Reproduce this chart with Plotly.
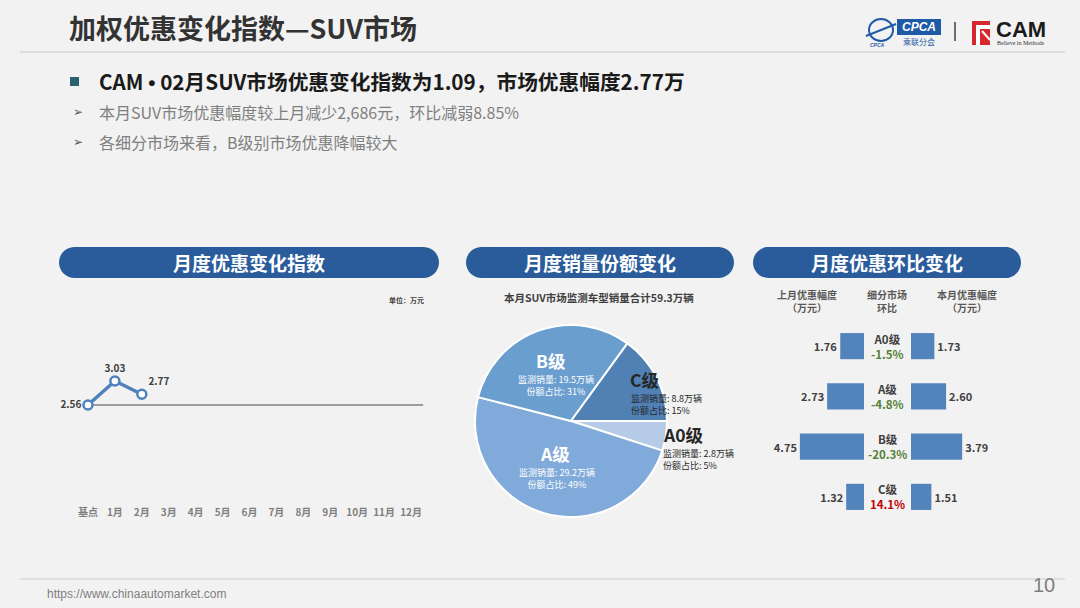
import plotly.graph_objects as go

W, H = 1080, 608
FONT = "Noto Sans CJK SC"

# ---------------- data ----------------
months = ["基点", "1月", "2月", "3月", "4月", "5月", "6月", "7月", "8月", "9月", "10月", "11月", "12月"]
index_vals = [2.56, 3.03, 2.77]
index_label_pos = ["middle left", "top center", "top right"]

seg_names = ["A0级", "A级", "B级", "C级"]
seg_volume = [2.8, 29.2, 19.5, 8.8]      # 万辆
seg_share = [5, 49, 31, 15]              # %
pie_colors = ["#b5cbe6", "#80aad9", "#6a9ecf", "#5080b4"]

last_month = [1.76, 2.73, 4.75, 1.32]
this_month = [1.73, 2.60, 3.79, 1.51]
mom_change = ["-1.5%", "-4.8%", "-20.3%", "14.1%"]

BAR_BLUE = "#5283bb"
LINE_BLUE = "#4f81bd"
DARK = "#404040"


def X(px):
    return px / W


def Y(py):
    return 1 - py / H


fig = go.Figure()

# ---------------- line chart ----------------
fig.add_trace(go.Scatter(
    x=list(range(len(index_vals))), y=index_vals,
    mode="lines+markers+text",
    line=dict(color=LINE_BLUE, width=3.5),
    marker=dict(size=9, color="white", line=dict(color=LINE_BLUE, width=2.5)),
    text=[f"{v:.2f}" for v in index_vals],
    textposition=index_label_pos,
    textfont=dict(family=FONT, size=10, color=DARK, weight="bold"),
    cliponaxis=False, showlegend=False, hoverinfo="skip",
    xaxis="x", yaxis="y",
))

# ---------------- pie ----------------
fig.add_trace(go.Pie(
    labels=seg_names, values=seg_share, sort=False, direction="clockwise",
    rotation=90, textinfo="none", hoverinfo="skip", showlegend=False,
    marker=dict(colors=pie_colors, line=dict(color="white", width=2)),
    domain=dict(x=[X(475), X(667)], y=[Y(517), Y(325)]),
))

# ---------------- bars ----------------
ypos = list(range(len(seg_names)))
fig.add_trace(go.Bar(
    x=last_month, y=ypos, orientation="h", width=0.52,
    marker=dict(color=BAR_BLUE, line=dict(width=0)),
    text=[f"{v:.2f}" for v in last_month], textposition="outside",
    textfont=dict(family=FONT, size=11, color=DARK, weight="bold"),
    constraintext="none", cliponaxis=False, showlegend=False, hoverinfo="skip",
    xaxis="x2", yaxis="y2",
))
fig.add_trace(go.Bar(
    x=this_month, y=ypos, orientation="h", width=0.52,
    marker=dict(color=BAR_BLUE, line=dict(width=0)),
    text=[f"{v:.2f}" for v in this_month], textposition="outside",
    textfont=dict(family=FONT, size=11, color=DARK, weight="bold"),
    constraintext="none", cliponaxis=False, showlegend=False, hoverinfo="skip",
    xaxis="x3", yaxis="y3",
))

shapes = []
ann = []


def text(t, x, y, size, color=DARK, weight="normal", xanchor="center", yanchor="middle", family=FONT, **kw):
    ann.append(dict(text=t, x=X(x), y=Y(y), xref="paper", yref="paper", showarrow=False,
                    xanchor=xanchor, yanchor=yanchor,
                    font=dict(family=family, size=size, color=color, weight=weight), **kw))


def pill(x0, y0, x1, y1, color):
    r = (y1 - y0) / 2
    k = 0.5523 * r
    pts = [
        ("M", [(x0 + r, y0)]),
        ("L", [(x1 - r, y0)]),
        ("C", [(x1 - r + k, y0), (x1, y0 + r - k), (x1, y0 + r)]),
        ("C", [(x1, y0 + r + k), (x1 - r + k, y1), (x1 - r, y1)]),
        ("L", [(x0 + r, y1)]),
        ("C", [(x0 + r - k, y1), (x0, y0 + r + k), (x0, y0 + r)]),
        ("C", [(x0, y0 + r - k), (x0 + r - k, y0), (x0 + r, y0)]),
    ]
    path = ""
    for cmd, ps in pts:
        path += cmd + " " + " ".join(f"{X(px):.5f},{Y(py):.5f}" for px, py in ps) + " "
    path += "Z"
    shapes.append(dict(type="path", path=path, xref="paper", yref="paper",
                       fillcolor=color, line=dict(width=0), layer="below"))


# header
text("加权优惠变化指数—SUV市场", 67, 28, 27, color="#333333", weight="bold", xanchor="left")
shapes.append(dict(type="line", xref="paper", yref="paper", x0=X(20), x1=X(1065), y0=Y(52), y1=Y(52),
                   line=dict(color="#d4d4d4", width=1.5), layer="below"))

# logos (approximate)
shapes.append(dict(type="circle", xref="paper", yref="paper", x0=X(869), x1=X(893), y0=Y(41), y1=Y(19),
                   line=dict(color="#1f5aa6", width=2), layer="below"))
shapes.append(dict(type="line", xref="paper", yref="paper", x0=X(866), x1=X(896), y0=Y(36), y1=Y(24),
                   line=dict(color="#1f5aa6", width=2), layer="below"))
text("<i>CPCA</i>", 877, 45, 5, color="#1f5aa6", weight="bold", family="Liberation Sans")
shapes.append(dict(type="rect", xref="paper", yref="paper", x0=X(897), x1=X(941), y0=Y(35), y1=Y(19),
                   fillcolor="#1f5aa6", line=dict(width=0), layer="below"))
text("<i>CPCA</i>", 919, 27, 12, color="white", weight="bold", family="Liberation Sans")
text("乘联分会", 919, 42, 8, color="#1f5aa6")
shapes.append(dict(type="line", xref="paper", yref="paper", x0=X(955), x1=X(955), y0=Y(22), y1=Y(41),
                   line=dict(color="#404040", width=1.5), layer="below"))
shapes.append(dict(type="rect", xref="paper", yref="paper", x0=X(972), x1=X(990), y0=Y(45), y1=Y(21),
                   fillcolor="#d7282f", line=dict(width=0), layer="below"))
shapes.append(dict(type="path", xref="paper", yref="paper",
                   path=f"M {X(976)},{Y(25)} L {X(990)},{Y(25)} L {X(990)},{Y(29)} L {X(980)},{Y(29)} L {X(980)},{Y(45)} L {X(976)},{Y(45)} Z",
                   fillcolor="white", line=dict(width=0), layer="below"))
shapes.append(dict(type="line", xref="paper", yref="paper", x0=X(982), x1=X(990), y0=Y(31), y1=Y(40),
                   line=dict(color="white", width=2), layer="below"))
text("CAM", 994, 30, 22, color="#1a1a1a", weight="bold", xanchor="left", family="Liberation Sans")
text("Believe in Methods", 995, 43, 6, color="#333333", xanchor="left", family="Liberation Serif")

# bullet lines
shapes.append(dict(type="rect", xref="paper", yref="paper", x0=X(70), x1=X(79), y0=Y(86), y1=Y(77),
                   fillcolor="#2c6170", line=dict(width=0), layer="below"))
text('CAM <span style="font-family:Liberation Sans">•</span> 02月SUV市场优惠变化指数为1.09，市场优惠幅度2.77万',
     97, 81, 20.7, color="#1a1a1a", weight="bold", xanchor="left")
text("➢", 71, 112, 12, color="#595959", xanchor="left", family="DejaVu Sans")
text("本月SUV市场优惠幅度较上月减少2,686元，环比减弱8.85%", 97, 112, 16, color="#7f7f7f", xanchor="left")
text("➢", 71, 142, 12, color="#595959", xanchor="left", family="DejaVu Sans")
text("各细分市场来看，B级别市场优惠降幅较大", 97, 142, 16, color="#7f7f7f", xanchor="left")

# pill headers
HDR = "#2a5c9b"
for (x0, x1, t) in [(59, 439, "月度优惠变化指数"), (466, 734, "月度销量份额变化"), (753, 1021, "月度优惠环比变化")]:
    pill(x0, 247, x1, 278, HDR)
    text(t, (x0 + x1) / 2, 262.5, 19, color="white", weight="bold")

# line chart extras
text("单位：万元", 426, 300, 7, color=DARK, weight="bold", xanchor="right")
shapes.append(dict(type="line", xref="x", yref="y", x0=0, x1=12.45, y0=index_vals[0], y1=index_vals[0],
                   line=dict(color="#7f7f7f", width=1.5), layer="below"))

# pie labels
text("本月SUV市场监测车型销量合计59.3万辆", 599, 297, 10.5, color=DARK, weight="bold")
HEAD = 17.5
SUB = 9


def sub(i):
    return f"监测销量: {seg_volume[i]}万辆<br>份额占比: {seg_share[i]}%"


text("B级", 551, 360, HEAD, color="white", weight="bold")
text(sub(2), 556, 385.5, SUB, color="white")
text("A级", 555, 453, HEAD, color="white", weight="bold")
text(sub(1), 557, 478.5, SUB, color="white")
text("C级", 628, 379, HEAD, color="#262626", weight="bold", xanchor="left")
text(sub(3), 629, 404.5, SUB, color="#262626", xanchor="left", align="left")
text("A0级", 661, 434, HEAD, color="#262626", weight="bold", xanchor="left")
text(sub(0), 661, 459, SUB, color="#262626", xanchor="left", align="left")

# bar chart headers
for cx, l1, l2 in [(807, "上月优惠幅度", "（万元）"), (887, "细分市场", "环比"), (967, "本月优惠幅度", "（万元）")]:
    text(f"{l1}<br>{l2}", cx, 301, 10, color="#595959", weight="bold")

for i, (name, chg) in enumerate(zip(seg_names, mom_change)):
    col = "#c00000" if not chg.startswith("-") else "#538135"
    ann.append(dict(text=f"{name}<br><span style='color:{col}'>{chg}</span>", x=X(887), xref="paper",
                    y=i, yref="y2", showarrow=False, xanchor="center", yanchor="middle",
                    font=dict(family=FONT, size=11.5, color=DARK, weight="bold")))

# footer
shapes.append(dict(type="line", xref="paper", yref="paper", x0=X(20), x1=X(1065), y0=Y(579), y1=Y(579),
                   line=dict(color="#d9d9d9", width=1.5), layer="below"))
text("https://www.chinaautomarket.com", 45, 594, 12, color="#7f7f7f", xanchor="left", family="Liberation Sans")
text("10", 1057, 585, 20, color="#7f7f7f", xanchor="right", family="Liberation Sans")

# ---------------- axes ----------------
px_per_unit = 51.0
y_top_px, y_bot_px, base_px = 300, 505, 405
y_lo = index_vals[0] - (y_bot_px - base_px) / px_per_unit
y_hi = index_vals[0] + (base_px - y_top_px) / px_per_unit

hidden = dict(visible=False, showgrid=False, zeroline=False, fixedrange=True)
bar_scale = 13.5
left_range = (864 - 740) / bar_scale

fig.update_layout(
    width=W, height=H, margin=dict(l=0, r=0, t=0, b=0),
    paper_bgcolor="#f2f2f2", plot_bgcolor="rgba(0,0,0,0)",
    showlegend=False,
    xaxis=dict(domain=[X(74.5), X(424.5)], range=[-0.5, 12.5], tickmode="array",
               tickvals=list(range(len(months))), ticktext=months, showgrid=False, zeroline=False,
               showline=False, ticks="", fixedrange=True,
               tickfont=dict(family=FONT, size=10, color="#7f7f7f", weight="bold"), anchor="y"),
    yaxis=dict(domain=[Y(y_bot_px), Y(y_top_px)], range=[y_lo, y_hi], **hidden, anchor="x"),
    xaxis2=dict(domain=[X(740), X(864)], range=[left_range, 0], anchor="y2", **hidden),
    yaxis2=dict(domain=[Y(522), Y(321)], range=[3.5, -0.5], anchor="x2", **hidden),
    xaxis3=dict(domain=[X(911), X(1035)], range=[0, left_range], anchor="y3", **hidden),
    yaxis3=dict(domain=[Y(522), Y(321)], range=[3.5, -0.5], anchor="x3", **hidden),
    shapes=shapes, annotations=ann,
    font=dict(family=FONT),
)

fig.write_html("out.html", config={"displayModeBar": False},
               post_script="document.body.style.margin='0';document.body.style.overflow='hidden';")
